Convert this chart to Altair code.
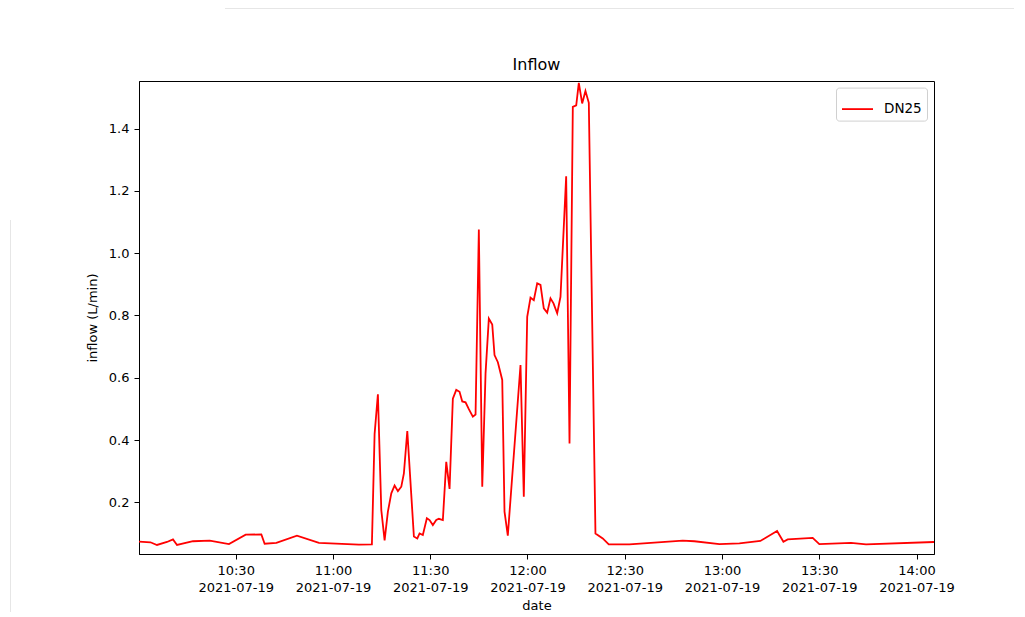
import altair as alt
import pandas as pd

times = [
    "10:00:11", "10:03:43", "10:05:44", "10:08:49", "10:10:40", "10:11:55", "10:16:50",
    "10:22:00", "10:27:56", "10:33:05", "10:37:55", "10:38:56", "10:42:33", "10:48:54",
    "10:55:41", "11:08:01", "11:12:01", "11:12:51", "11:13:52", "11:14:55", "11:15:56",
    "11:16:57", "11:18:00", "11:19:01", "11:20:02", "11:21:05", "11:21:53", "11:22:56",
    "11:24:58", "11:26:01", "11:26:43", "11:27:44", "11:28:58", "11:29:48", "11:30:49",
    "11:31:52", "11:32:40", "11:33:54", "11:34:57", "11:35:58", "11:36:59", "11:38:02",
    "11:39:03", "11:39:53", "11:40:54", "11:41:55", "11:43:09", "11:43:59", "11:45:00",
    "11:46:03", "11:47:04", "11:48:05", "11:49:08", "11:49:50", "11:50:52", "11:52:13",
    "11:52:55", "11:53:56", "11:57:51", "11:58:52", "11:59:55", "12:00:56", "12:01:57",
    "12:03:00", "12:04:01", "12:05:02", "12:06:05", "12:07:06", "12:08:02", "12:09:10",
    "12:10:11", "12:11:56", "12:12:58", "12:13:59", "12:15:02", "12:15:50", "12:16:52",
    "12:17:53", "12:18:55", "12:20:58", "12:23:13", "12:25:04", "12:31:27", "12:47:53",
    "12:51:29", "12:59:12", "13:05:22", "13:11:50", "13:16:59", "13:18:56", "13:20:15",
    "13:27:58", "13:30:01", "13:39:48", "13:44:25", "14:05:23",
]
inflow = [
    0.0735, 0.0716, 0.063, 0.0726, 0.081, 0.063, 0.075,
    0.077, 0.066, 0.096, 0.097, 0.067, 0.070, 0.093,
    0.070, 0.064, 0.065, 0.42, 0.547, 0.175, 0.078,
    0.17, 0.229, 0.254, 0.236, 0.25, 0.293, 0.429,
    0.090, 0.084, 0.100, 0.095, 0.149, 0.143, 0.127,
    0.143, 0.147, 0.143, 0.33, 0.243, 0.533, 0.561,
    0.555, 0.524, 0.521, 0.499, 0.475, 0.482, 1.076,
    0.25, 0.614, 0.79, 0.771, 0.673, 0.650, 0.593,
    0.17, 0.093, 0.641, 0.218, 0.796, 0.857, 0.849,
    0.903, 0.898, 0.823, 0.809, 0.855, 0.839, 0.807,
    0.860, 1.247, 0.389, 1.47, 1.475, 1.547, 1.481,
    1.521, 1.483, 0.100, 0.084, 0.065, 0.065, 0.077,
    0.075, 0.066, 0.068, 0.076, 0.108, 0.0735, 0.081,
    0.086, 0.066, 0.070, 0.065, 0.0726,
]
day = "2021-07-19"
series_name = "DN25"
y_ticks = [0.2, 0.4, 0.6, 0.8, 1.0, 1.2, 1.4]
x_ticks = [(10, 30), (11, 0), (11, 30), (12, 0), (12, 30), (13, 0), (13, 30), (14, 0)]

df = pd.DataFrame({
    "date": [f"{day}T{t}" for t in times],
    "inflow": inflow,
    "series": [series_name] * len(times),
})

font = "DejaVu Sans"

line = alt.Chart(df).mark_line(strokeWidth=1.8, clip=True).encode(
    x=alt.X(
        "date:T",
        scale=alt.Scale(nice=False),
        axis=alt.Axis(
            values=[alt.DateTime(year=2021, month=7, date=19, hours=h, minutes=m) for h, m in x_ticks],
            labelExpr="[timeFormat(datum.value, '%H:%M'), timeFormat(datum.value, '%Y-%m-%d')]",
            labelLineHeight=17,
            title="date",
            titlePadding=5,
        ),
    ),
    y=alt.Y(
        "inflow:Q",
        scale=alt.Scale(domain=[0.034, 1.553], nice=False, zero=False),
        axis=alt.Axis(values=y_ticks, format=".1f", title="inflow (L/min)", titlePadding=9),
    ),
    color=alt.Color(
        "series:N",
        scale=alt.Scale(domain=[series_name], range=["#ff0000"]),
        legend=alt.Legend(
            title=None,
            orient="none",
            legendX=697,
            legendY=6.6,
            symbolType="stroke",
            symbolStrokeWidth=1.8,
            symbolSize=961,
            labelFont=font,
            labelFontSize=13.5,
            labelColor="black",
            labelOffset=10,
            strokeColor="#d0d0d0",
            fillColor="white",
            cornerRadius=3,
            padding=5,
        ),
    ),
)

frame_top = alt.Chart(df).mark_rule(color="#e6e6e6", strokeWidth=1).encode(
    x=alt.value(86), x2=alt.value(890), y=alt.value(-72.5)
)
frame_left = alt.Chart(df).mark_rule(color="#e6e6e6", strokeWidth=1).encode(
    x=alt.value(-128.5), y=alt.value(139), y2=alt.value(540)
)

chart = alt.layer(frame_top, frame_left, line).properties(
    width=795,
    height=473,
    autosize=alt.AutoSizeParams(type="none"),
    padding={"left": 131, "top": 73, "right": 80, "bottom": 58},
    title=alt.TitleParams("Inflow", anchor="middle", frame="group", offset=8, dy=73, font=font,
                          fontSize=16, fontWeight="normal", color="black"),
).configure_axis(
    grid=False,
    domainColor="black",
    domainWidth=1,
    tickColor="black",
    tickSize=5,
    tickWidth=1,
    labelFont=font,
    labelFontSize=13,
    labelColor="black",
    labelPadding=5,
    titleFont=font,
    titleFontSize=13,
    titleFontWeight="normal",
    titleColor="black",
).configure_view(stroke="black", strokeWidth=1)

chart.save("out.html", embed_options={"renderer": "svg", "actions": False})
